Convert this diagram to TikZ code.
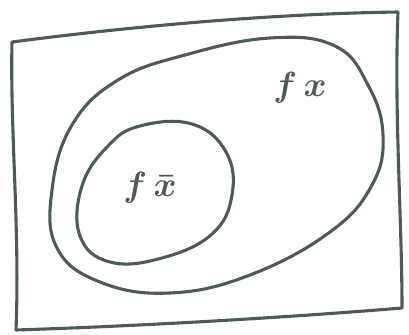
\documentclass[tikz,border=0pt]{standalone}
\usepackage{tikz}
\usepackage{xcolor}
\usepackage{amsmath}
\definecolor{ink}{HTML}{4E5A59}
\begin{document}
\begin{tikzpicture}[
  x=0.025cm, y=-0.025cm,
  pen/.style={draw=ink,line width=2.2pt,line cap=round,line join=round},
  lbl/.style={text=ink,font=\fontsize{40}{40}\selectfont\boldmath}
]
\useasboundingbox (0,0) rectangle (409,335);
% outer frame
\draw[pen] (12,42) .. controls (120,28) and (260,14) .. (398,12)
  .. controls (394,110) and (402,220) .. (402,308)
  .. controls (280,318) and (140,326) .. (16,330)
  .. controls (20,230) and (10,130) .. cycle;
% big set
\draw[pen] plot[smooth cycle,tension=0.7] coordinates {(270,38) (335,46) (368,85) (383,135) (372,185) (330,232) (250,275) (170,293) (100,282) (57,248) (52,190) (72,125) (118,80) (185,55)};
% small set
\draw[pen] plot[smooth cycle,tension=0.7] coordinates {(140,126) (192,124) (226,152) (232,195) (212,234) (162,258) (110,262) (80,236) (82,186) (108,146)};
\node[lbl] (fx) at (300,88) {$f\,x$};
\node[lbl] (fxbar) at (150,188) {$f\,\bar{x}$};
\end{tikzpicture}
\end{document}
